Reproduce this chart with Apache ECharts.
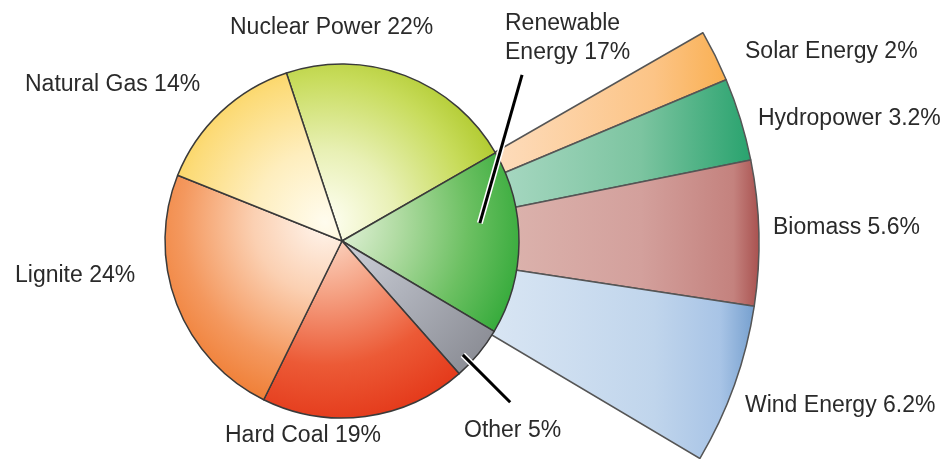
<!DOCTYPE html>
<html>
<head>
<meta charset="utf-8">
<script src="https://cdn.jsdelivr.net/npm/echarts@6/dist/echarts.min.js"></script>
<style>
  html, body { margin: 0; padding: 0; background: #fff; }
  #chart { width: 950px; height: 459px; }
</style>
</head>
<body>
<div id="chart"></div>
<script>
// energy mix (main pie)
var mixNames = ['Nuclear Power', 'Renewable Energy', 'Other', 'Hard Coal', 'Lignite', 'Natural Gas'];
var mixValues = [22, 17, 5, 19, 24, 14];

// breakdown of renewables (fan)
var renewNames = ['Solar Energy', 'Hydropower', 'Biomass', 'Wind Energy'];
var renewValues = [2, 3.2, 5.6, 6.2];

var myChart = echarts.init(document.getElementById('chart'));

var cx = 342, cy = 241, R = 177;
var fx = 337, fy = 243, FR = 422;
var startAngle = 108.3;

var total = mixValues.reduce(function (a, b) { return a + b; }, 0);
var idxRenew = mixNames.indexOf('Renewable Energy');
var before = 0;
for (var i = 0; i < idxRenew; i++) before += mixValues[i];
var fanStart = startAngle - 360 * before / total;

function polar(r, deg) {
    var a = deg * Math.PI / 180;
    return [cx + r * Math.cos(a), cy - r * Math.sin(a)];
}

function radial(stops) {
    return {
        type: 'radial', x: 325, y: 222, r: 205, global: true,
        colorStops: stops.map(function (s) { return { offset: s[0], color: s[1] }; })
    };
}
function linear(stops) {
    return {
        type: 'linear', x: 495, y: 0, x2: 760, y2: 0, global: true,
        colorStops: stops.map(function (s) { return { offset: s[0], color: s[1] }; })
    };
}

var mixColors = {
    'Nuclear Power': radial([[0, '#fffff4'], [0.35, '#e8f0b4'], [0.7, '#c8dc5c'], [1, '#a6c21a']]),
    'Renewable Energy': radial([[0, '#eef7e6'], [0.35, '#b2dca4'], [0.7, '#6cc062'], [1, '#34aa3a']]),
    'Other': radial([[0, '#d8dbe2'], [0.5, '#b0b3bc'], [1, '#8c8e96']]),
    'Hard Coal': radial([[0, '#fde4d4'], [0.35, '#f5a284'], [0.7, '#ec5a36'], [1, '#e4391a']]),
    'Lignite': radial([[0, '#fff6ee'], [0.35, '#fbd0b2'], [0.7, '#f4985e'], [1, '#ee7628']]),
    'Natural Gas': radial([[0, '#fffcee'], [0.35, '#feeebe'], [0.7, '#fcdb78'], [1, '#f7c52c']])
};
var renewColors = {
    'Solar Energy': linear([[0, '#fddcbc'], [0.6, '#fcc486'], [1, '#f8a63a']]),
    'Hydropower': linear([[0, '#a8d8c2'], [0.55, '#7cc4a0'], [1, '#22a06a']]),
    'Biomass': linear([[0, '#dcb4ae'], [0.55, '#d3a09c'], [0.9, '#c4827e'], [1, '#a8504e']]),
    'Wind Energy': linear([[0, '#d8e5f3'], [0.6, '#c0d5ec'], [0.85, '#a8c4e6'], [1, '#6e9acb']])
};

var mixLabelPos = {
    'Nuclear Power': [230, 28],
    'Renewable Energy': [505, 38],
    'Other': [464, 431],
    'Hard Coal': [225, 436],
    'Lignite': [15, 276],
    'Natural Gas': [25, 85]
};
var renewLabelPos = {
    'Solar Energy': [745, 52],
    'Hydropower': [758, 119],
    'Biomass': [773, 228],
    'Wind Energy': [745, 406]
};
// leader lines, polar offsets from the pie centre: [radius, angle]
var leaderPolar = {
    'Renewable Energy': [[245, 42.7], [139, 7.4]],
    'Other': [[233, -43.8], [166, -43.3]]
};

var labelFont = { fontFamily: 'Liberation Sans', fontSize: 23, color: '#2a2a2a', lineHeight: 29 };

var mixData = mixNames.map(function (n, k) {
    return { name: n, value: mixValues[k], itemStyle: { color: mixColors[n] } };
});

var fanData = renewNames.map(function (n, k) {
    return { name: n, value: renewValues[k], itemStyle: { color: renewColors[n] } };
});
fanData.push({
    name: 'rest', value: total - mixValues[idxRenew],
    itemStyle: { color: 'rgba(0,0,0,0)', borderWidth: 0 },
    label: { show: false }
});

var leaderGraphics = [];
Object.keys(leaderPolar).forEach(function (n) {
    var pts = leaderPolar[n].map(function (p) { return polar(p[0], p[1]); });
    leaderGraphics.push({
        type: 'polyline', z: 100, silent: true,
        shape: { points: pts },
        style: { stroke: '#fff', lineWidth: 6, fill: null }
    });
    leaderGraphics.push({
        type: 'polyline', z: 101, silent: true,
        shape: { points: pts },
        style: { stroke: '#000', lineWidth: 3, fill: null }
    });
});

var option = {
    animation: false,
    graphic: leaderGraphics,
    series: [
        {
            type: 'pie',
            z: 1,
            center: [fx, fy],
            radius: [0, FR],
            startAngle: fanStart,
            clockwise: true,
            silent: true,
            avoidLabelOverlap: false,
            itemStyle: { borderColor: '#555', borderWidth: 1.5 },
            label: Object.assign({ show: true, position: 'outside', formatter: '{b} {c}%' }, labelFont),
            labelLine: { show: false },
            labelLayout: function (p) {
                var pos = renewLabelPos[renewNames[p.dataIndex]];
                if (!pos) return {};
                return { x: pos[0], y: pos[1], align: 'left', verticalAlign: 'middle' };
            },
            data: fanData
        },
        {
            type: 'pie',
            z: 2,
            center: [cx, cy],
            radius: [0, R],
            startAngle: startAngle,
            clockwise: true,
            silent: true,
            avoidLabelOverlap: false,
            itemStyle: { borderColor: '#3a3a3a', borderWidth: 1.5 },
            label: Object.assign({
                show: true, position: 'outside',
                formatter: function (p) {
                    var n = p.name === 'Renewable Energy' ? 'Renewable\nEnergy' : p.name;
                    return n + ' ' + p.value + '%';
                }
            }, labelFont),
            labelLine: { show: false },
            labelLayout: function (p) {
                var pos = mixLabelPos[mixNames[p.dataIndex]];
                return { x: pos[0], y: pos[1], align: 'left', verticalAlign: 'middle' };
            },
            data: mixData
        }
    ]
};

myChart.setOption(option);
</script>
</body>
</html>
